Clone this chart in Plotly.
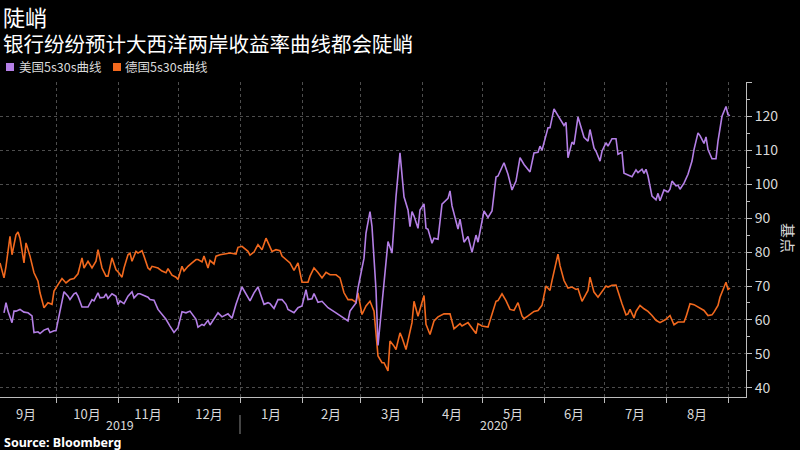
import plotly.graph_objects as go

# ---------------- data ----------------
us_dates = [
    "2019-09-05","2019-09-06","2019-09-07","2019-09-09","2019-09-10","2019-09-11","2019-09-13",
    "2019-09-15","2019-09-17","2019-09-19","2019-09-20","2019-09-22","2019-09-23","2019-09-25",
    "2019-09-27","2019-09-28","2019-09-30","2019-10-01","2019-10-03","2019-10-05","2019-10-07",
    "2019-10-08","2019-10-10","2019-10-11","2019-10-12","2019-10-14","2019-10-16","2019-10-17",
    "2019-10-19","2019-10-20","2019-10-22","2019-10-23","2019-10-25","2019-10-26","2019-10-27",
    "2019-10-29","2019-10-31","2019-11-01","2019-11-02","2019-11-04","2019-11-06","2019-11-08",
    "2019-11-09","2019-11-11","2019-11-12","2019-11-14","2019-11-16","2019-11-17","2019-11-19",
    "2019-11-21","2019-11-23","2019-11-25","2019-11-27","2019-11-29","2019-12-01","2019-12-03",
    "2019-12-05","2019-12-07","2019-12-10","2019-12-11","2019-12-13","2019-12-14","2019-12-16",
    "2019-12-17","2019-12-20","2019-12-21","2019-12-23","2019-12-26","2019-12-28","2019-12-30",
    "2020-01-02","2020-01-04","2020-01-06","2020-01-08","2020-01-10","2020-01-13","2020-01-15",
    "2020-01-16","2020-01-18","2020-01-20","2020-01-22","2020-01-24","2020-01-25","2020-01-28",
    "2020-01-30","2020-02-01","2020-02-03","2020-02-04","2020-02-06","2020-02-07","2020-02-09",
    "2020-02-11","2020-02-14","2020-02-18","2020-02-21","2020-02-24","2020-02-25","2020-02-28",
    "2020-02-29","2020-03-03","2020-03-04","2020-03-06","2020-03-07","2020-03-09","2020-03-10",
    "2020-03-12","2020-03-15","2020-03-17","2020-03-19","2020-03-21","2020-03-23","2020-03-25",
    "2020-03-26","2020-03-27","2020-03-28","2020-03-30","2020-03-31","2020-04-02","2020-04-03",
    "2020-04-04","2020-04-06","2020-04-07","2020-04-09","2020-04-11","2020-04-14","2020-04-15",
    "2020-04-16","2020-04-19","2020-04-20","2020-04-22","2020-04-24","2020-04-26","2020-04-28",
    "2020-04-29","2020-05-02","2020-05-04","2020-05-06","2020-05-08","2020-05-09","2020-05-12",
    "2020-05-14","2020-05-16","2020-05-18","2020-05-20","2020-05-22","2020-05-25","2020-05-27",
    "2020-05-29","2020-05-30","2020-05-31","2020-06-03","2020-06-04","2020-06-06","2020-06-08",
    "2020-06-09","2020-06-11","2020-06-12","2020-06-13","2020-06-15","2020-06-16","2020-06-18",
    "2020-06-19","2020-06-21","2020-06-23","2020-06-24","2020-06-26","2020-06-27","2020-06-29",
    "2020-06-30","2020-07-02","2020-07-03","2020-07-05","2020-07-07","2020-07-08","2020-07-10",
    "2020-07-11","2020-07-13","2020-07-15","2020-07-17","2020-07-18","2020-07-20","2020-07-21",
    "2020-07-22","2020-07-23","2020-07-25","2020-07-27","2020-07-28","2020-07-29","2020-07-31",
    "2020-08-02","2020-08-03","2020-08-04","2020-08-06","2020-08-07","2020-08-08","2020-08-10",
    "2020-08-12","2020-08-14","2020-08-15","2020-08-17","2020-08-18","2020-08-20","2020-08-21",
    "2020-08-22","2020-08-24","2020-08-26","2020-08-27","2020-08-29","2020-08-31","2020-09-01",
    "2020-09-02",
]
us_values = [
    62.1, 65.1, 62.6, 59.2, 62.6, 62.6, 63.1,
    62.3, 62.1, 61.2, 56.3, 56.5, 56.0, 57.0,
    57.5, 56.3, 56.8, 56.8, 62.6, 68.3, 67.0,
    66.0, 67.7, 68.0, 67.0, 63.8, 63.8, 63.8,
    66.0, 65.6, 68.0, 66.5, 66.7, 67.7, 66.3,
    67.7, 67.0, 64.5, 65.6, 64.8, 67.0, 68.3,
    66.5, 67.7, 67.7, 67.3, 66.7, 66.0, 65.8,
    63.1, 61.7, 60.2, 58.2, 56.3, 57.7, 62.4,
    62.1, 62.6, 60.2, 57.9, 58.7, 58.4, 59.9,
    58.5, 61.2, 62.1, 60.9, 61.8, 60.5, 64.6,
    69.7, 67.5, 65.6, 68.0, 69.7, 64.6, 65.1,
    64.8, 63.4, 66.0, 66.0, 64.6, 63.1, 62.1,
    63.6, 64.1, 68.9, 66.0, 66.2, 67.8, 65.2,
    65.5, 63.6, 62.1, 60.9, 59.7, 62.6, 65.0,
    69.4, 78.2, 85.6, 91.9, 87.5, 68.9, 52.5,
    64.1, 83.1, 79.7, 96.3, 109.2, 96.3, 92.4,
    87.5, 91.9, 90.6, 87.0, 92.4, 94.2, 87.0,
    86.7, 82.6, 84.1, 83.8, 94.1, 95.8, 98.0,
    93.6, 86.8, 89.7, 82.9, 84.6, 79.9, 85.0,
    82.9, 92.1, 90.2, 92.1, 102.1, 102.4, 106.3,
    102.9, 98.3, 100.9, 107.8, 105.8, 103.6, 109.2,
    109.4, 111.2, 110.0, 116.6, 116.6, 122.2, 120.2,
    119.2, 117.3, 118.2, 107.8, 112.4, 111.7, 119.8,
    117.8, 113.8, 112.7, 116.1, 110.7, 109.7, 106.8,
    109.7, 112.2, 111.2, 113.4, 113.4, 108.8, 109.4,
    103.2, 102.7, 102.2, 104.2, 103.4, 104.4, 103.2,
    104.4, 102.4, 96.5, 95.4, 97.3, 95.1, 98.3,
    97.7, 98.5, 100.9, 99.5, 99.7, 98.5, 100.3,
    102.9, 106.8, 110.2, 115.1, 114.3, 112.0, 113.9,
    110.2, 107.5, 107.5, 112.7, 120.0, 122.9, 120.5,
    120.2,
]

de_dates = [
    "2019-09-03","2019-09-05","2019-09-06","2019-09-08","2019-09-09","2019-09-11","2019-09-12",
    "2019-09-13","2019-09-15","2019-09-16","2019-09-18","2019-09-20","2019-09-22","2019-09-23",
    "2019-09-25","2019-09-27","2019-09-29","2019-09-30","2019-10-02","2019-10-04","2019-10-06",
    "2019-10-08","2019-10-10","2019-10-12","2019-10-14","2019-10-15","2019-10-17","2019-10-19",
    "2019-10-21","2019-10-22","2019-10-24","2019-10-26","2019-10-27","2019-10-29","2019-10-31",
    "2019-11-01","2019-11-03","2019-11-04","2019-11-06","2019-11-07","2019-11-08","2019-11-10",
    "2019-11-11","2019-11-13","2019-11-14","2019-11-16","2019-11-17","2019-11-18","2019-11-21",
    "2019-11-23","2019-11-25","2019-11-26","2019-11-28","2019-11-30","2019-12-01","2019-12-03",
    "2019-12-04","2019-12-06","2019-12-08","2019-12-10","2019-12-11","2019-12-13","2019-12-14",
    "2019-12-16","2019-12-17","2019-12-19","2019-12-20","2019-12-22","2019-12-25","2019-12-27",
    "2019-12-30","2019-12-31","2020-01-02","2020-01-05","2020-01-06","2020-01-08","2020-01-10",
    "2020-01-12","2020-01-14","2020-01-16","2020-01-17","2020-01-19","2020-01-21","2020-01-22",
    "2020-01-24","2020-01-26","2020-01-28","2020-01-30","2020-02-01","2020-02-04","2020-02-05",
    "2020-02-07","2020-02-09","2020-02-11","2020-02-13","2020-02-15","2020-02-18","2020-02-20",
    "2020-02-22","2020-02-24","2020-02-26","2020-02-28","2020-02-29","2020-03-02","2020-03-04",
    "2020-03-06","2020-03-08","2020-03-09","2020-03-10","2020-03-12","2020-03-13","2020-03-15",
    "2020-03-16","2020-03-18","2020-03-19","2020-03-21","2020-03-22","2020-03-24","2020-03-25",
    "2020-03-27","2020-03-28","2020-03-30","2020-04-02","2020-04-03","2020-04-05","2020-04-07",
    "2020-04-09","2020-04-12","2020-04-15","2020-04-17","2020-04-20","2020-04-21","2020-04-24",
    "2020-04-26","2020-04-28","2020-04-29","2020-05-01","2020-05-04","2020-05-06","2020-05-08",
    "2020-05-09","2020-05-11","2020-05-13","2020-05-15","2020-05-17","2020-05-19","2020-05-21",
    "2020-05-22","2020-05-24","2020-05-27","2020-05-29","2020-05-31","2020-06-02","2020-06-04",
    "2020-06-05","2020-06-08","2020-06-09","2020-06-11","2020-06-13","2020-06-15","2020-06-17",
    "2020-06-18","2020-06-20","2020-06-23","2020-06-24","2020-06-26","2020-06-28","2020-06-30",
    "2020-07-02","2020-07-03","2020-07-05","2020-07-07","2020-07-08","2020-07-10","2020-07-12",
    "2020-07-13","2020-07-14","2020-07-16","2020-07-17","2020-07-19","2020-07-21","2020-07-23",
    "2020-07-25","2020-07-27","2020-07-29","2020-07-31","2020-08-01","2020-08-03","2020-08-04",
    "2020-08-05","2020-08-07","2020-08-10","2020-08-11","2020-08-13","2020-08-15","2020-08-17",
    "2020-08-20","2020-08-22","2020-08-24","2020-08-25","2020-08-27","2020-08-28","2020-08-30",
    "2020-08-31","2020-09-01","2020-09-02",
]
de_values = [
    76.8, 72.4, 75.8, 84.6, 79.2, 85.1, 85.9,
    84.1, 76.8, 82.7, 78.8, 73.9, 71.4, 68.0,
    63.6, 65.1, 64.6, 68.5, 70.4, 72.2, 70.9,
    71.9, 72.2, 73.6, 78.3, 75.3, 77.3, 75.3,
    77.3, 80.7, 75.3, 72.9, 72.9, 78.3, 74.8,
    74.2, 72.6, 75.3, 79.2, 79.7, 77.3, 80.2,
    79.7, 80.4, 78.8, 75.3, 74.8, 75.8, 75.3,
    74.4, 73.9, 75.1, 73.2, 72.6, 71.9, 75.8,
    74.4, 75.8, 76.8, 77.8, 77.8, 77.1, 78.8,
    75.3, 77.5, 76.5, 78.8, 79.2, 79.5, 79.7,
    79.4, 81.4, 81.7, 80.2, 79.1, 80.0, 82.2,
    80.7, 84.1, 81.2, 80.2, 80.7, 80.4, 78.8,
    77.8, 76.8, 74.6, 76.8, 71.1, 71.1, 72.9,
    75.3, 74.0, 72.4, 74.0, 73.3, 73.3, 72.4,
    68.0, 66.0, 66.0, 65.2, 68.0, 61.6, 64.1,
    65.5, 62.6, 55.3, 49.4, 47.4, 47.4, 45.0,
    53.8, 52.3, 51.3, 56.2, 54.8, 51.3, 54.3,
    59.2, 65.5, 61.1, 67.2, 58.7, 55.7, 59.7,
    60.9, 61.8, 61.8, 57.4, 58.9, 58.2, 59.2,
    57.4, 56.0, 58.9, 58.2, 57.9, 61.8, 65.5,
    65.7, 67.7, 65.7, 63.1, 62.8, 65.1, 61.2,
    60.4, 61.2, 62.5, 62.8, 64.3, 70.0, 68.7,
    71.6, 79.4, 76.0, 71.6, 69.4, 69.7, 69.0,
    69.2, 65.5, 68.7, 72.6, 68.2, 66.7, 68.2,
    70.0, 69.7, 70.2, 70.3, 68.2, 64.8, 61.5,
    61.8, 63.1, 60.6, 62.5, 64.3, 63.3, 62.5,
    61.3, 59.9, 59.2, 59.9, 60.2, 61.3, 59.9,
    58.6, 59.4, 59.4, 60.9, 64.8, 64.5, 63.8,
    62.8, 61.3, 61.5, 62.3, 64.3, 66.7, 70.0,
    71.1, 69.0, 69.4,
]

us_name = "美国5s30s曲线"
de_name = "德国5s30s曲线"
title_text = "陡峭"
subtitle_text = "银行纷纷预计大西洋两岸收益率曲线都会陡峭"
y_tick_vals = [40, 50, 60, 70, 80, 90, 100, 110, 120, 130]
y_tick_text = ["40", "50", "60", "70", "80", "90", "100", "110", "120", ""]
year_labels = ["2019", "2020"]
year_label_pos = ["2019-11-02", "2020-05-07"]
year_split = "2020-01-01"
y_unit = "基点"
source_text = "<b>Source: Bloomberg</b>"

# ---------------- styling ----------------
US_COLOR = "#b47fe6"
DE_COLOR = "#f2691e"
BG = "#000000"
GRID = "#4d4d4d"
AXIS = "#bdbdbd"
TXT = "#d9d9d9"
FONT = "Noto Sans CJK SC, Noto Sans, sans-serif"

W, H = 800, 450
ML, MR, MT, MB = 0, 54, 82, 53
PW, PH = W - ML - MR, H - MT - MB


def px_x(px):
    return (px - ML) / PW


def px_y(py):
    return (H - MB - py) / PH


fig = go.Figure()
fig.add_trace(go.Scatter(x=de_dates, y=de_values, mode="lines", name=de_name,
                         line=dict(color=DE_COLOR, width=1.6), showlegend=False))
fig.add_trace(go.Scatter(x=us_dates, y=us_values, mode="lines", name=us_name,
                         line=dict(color=US_COLOR, width=1.6), showlegend=False))

annotations = [
    dict(text=title_text, x=px_x(1), y=px_y(16), xref="paper", yref="paper",
         xanchor="left", yanchor="middle", showarrow=False, height=26,
         font=dict(family=FONT, size=22, color="#ffffff")),
    dict(text=subtitle_text, x=px_x(1), y=px_y(42.5), xref="paper", yref="paper",
         xanchor="left", yanchor="middle", showarrow=False, height=24,
         font=dict(family=FONT, size=20.5, color="#ffffff")),
    dict(text=us_name, x=px_x(17), y=px_y(67), xref="paper", yref="paper",
         xanchor="left", yanchor="middle", showarrow=False,
         font=dict(family=FONT, size=12.5, color=TXT)),
    dict(text=de_name, x=px_x(123), y=px_y(67), xref="paper", yref="paper",
         xanchor="left", yanchor="middle", showarrow=False,
         font=dict(family=FONT, size=12.5, color=TXT)),
    dict(text=y_unit, x=px_x(789), y=px_y(238), xref="paper", yref="paper",
         xanchor="center", yanchor="middle", showarrow=False, textangle=90,
         font=dict(family=FONT, size=15, color=TXT)),
    dict(text=source_text, x=px_x(2), y=px_y(442), xref="paper", yref="paper",
         xanchor="left", yanchor="middle", showarrow=False,
         font=dict(family="Noto Sans, sans-serif", size=12.5, color="#ffffff")),
]
for lab, pos in zip(year_labels, year_label_pos):
    annotations.append(dict(text=lab, x=pos, y=px_y(425), xref="x", yref="paper",
                            xanchor="center", yanchor="middle", showarrow=False,
                            font=dict(family=FONT, size=12.5, color=TXT)))

shapes = [
    dict(type="rect", xref="paper", yref="paper", x0=px_x(6), x1=px_x(14),
         y0=px_y(71), y1=px_y(63), fillcolor=US_COLOR, line=dict(width=0)),
    dict(type="rect", xref="paper", yref="paper", x0=px_x(113), x1=px_x(121),
         y0=px_y(71), y1=px_y(63), fillcolor=DE_COLOR, line=dict(width=0)),
    dict(type="line", xref="x", yref="paper", x0=year_split, x1=year_split,
         y0=px_y(415), y1=px_y(434), line=dict(color="#888888", width=1)),
]

fig.update_layout(
    width=W, height=H,
    paper_bgcolor=BG, plot_bgcolor=BG,
    margin=dict(l=ML, r=MR, t=MT, b=MB, autoexpand=False),
    showlegend=False,
    annotations=annotations,
    shapes=shapes,
    font=dict(family=FONT, color=TXT),
    xaxis=dict(
        type="date",
        range=["2019-09-03", "2020-09-10"],
        tick0="2019-09-01", dtick="M1",
        ticklabelmode="period",
        tickformat="%-m月",
        ticks="outside", ticklen=5, tickcolor=AXIS, tickwidth=1,
        ticklabelstandoff=0,
        showline=True, linecolor=AXIS, linewidth=1,
        showgrid=True, gridcolor=GRID, griddash="dot", gridwidth=1,
        tickfont=dict(family=FONT, size=13, color=TXT),
        zeroline=False, fixedrange=True, automargin=False,
    ),
    yaxis=dict(
        side="right",
        range=[37.3, 130.1],
        tickmode="array", tickvals=y_tick_vals, ticktext=y_tick_text,
        ticks="outside", ticklen=5, tickcolor=AXIS, tickwidth=1,
        minor=dict(tickmode="linear", tick0=35, dtick=5, ticks="outside",
                   ticklen=3, tickcolor=AXIS, showgrid=False),
        showline=True, linecolor=AXIS, linewidth=1,
        showgrid=True, gridcolor=GRID, griddash="dot", gridwidth=1,
        tickfont=dict(family=FONT, size=14, color=TXT),
        zeroline=False, fixedrange=True, automargin=False,
    ),
)

fig.write_html(
    "out.html",
    config={"displayModeBar": False},
    post_script="document.body.style.margin='0';document.body.style.padding='0';document.body.style.background='#000';",
)
